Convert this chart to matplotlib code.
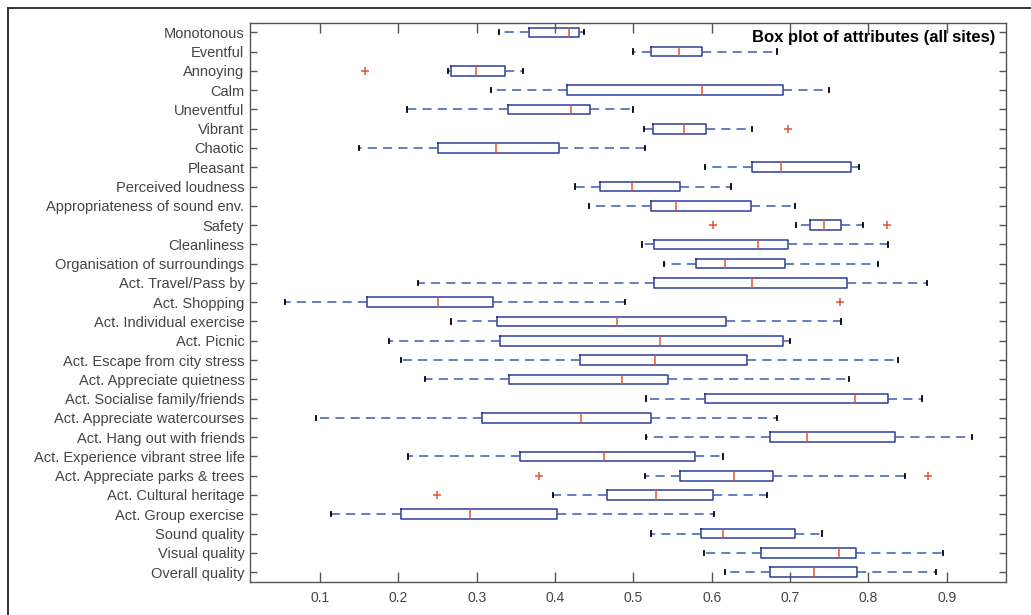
import numpy as np
import matplotlib
matplotlib.use("Agg")
import matplotlib.pyplot as plt
from matplotlib.lines import Line2D

# 1. Datos (de arriba a abajo)
categorias = [
    "Monotonous", "Eventful", "Annoying", "Calm", "Uneventful", "Vibrant",
    "Chaotic", "Pleasant", "Perceived loudness", "Appropriateness of sound env.",
    "Safety", "Cleanliness", "Organisation of surroundings", "Act. Travel/Pass by",
    "Act. Shopping", "Act. Individual exercise", "Act. Picnic",
    "Act. Escape from city stress", "Act. Appreciate quietness",
    "Act. Socialise family/friends", "Act. Appreciate watercourses",
    "Act. Hang out with friends", "Act. Experience vibrant stree life",
    "Act. Appreciate parks & trees", "Act. Cultural heritage",
    "Act. Group exercise", "Sound quality", "Visual quality", "Overall quality",
]

bigote_inf = [0.328, 0.500, 0.263, 0.318, 0.211, 0.513, 0.150, 0.592, 0.426, 0.443,
              0.707, 0.511, 0.539, 0.225, 0.055, 0.267, 0.188, 0.203, 0.234, 0.516,
              0.095, 0.516, 0.212, 0.515, 0.398, 0.114, 0.522, 0.590, 0.617]
q1 = [0.367, 0.522, 0.267, 0.415, 0.340, 0.525, 0.250, 0.652, 0.458, 0.523,
      0.726, 0.526, 0.580, 0.526, 0.160, 0.326, 0.330, 0.432, 0.341, 0.591,
      0.307, 0.674, 0.355, 0.560, 0.466, 0.203, 0.586, 0.663, 0.675]
mediana = [0.418, 0.558, 0.299, 0.588, 0.421, 0.565, 0.325, 0.688, 0.498, 0.554,
           0.744, 0.659, 0.617, 0.651, 0.250, 0.479, 0.534, 0.528, 0.485, 0.783,
           0.433, 0.722, 0.463, 0.628, 0.529, 0.292, 0.615, 0.763, 0.731]
q3 = [0.431, 0.588, 0.336, 0.691, 0.445, 0.593, 0.405, 0.778, 0.560, 0.650,
      0.765, 0.698, 0.694, 0.773, 0.321, 0.618, 0.691, 0.645, 0.544, 0.825,
      0.522, 0.834, 0.579, 0.678, 0.602, 0.403, 0.706, 0.784, 0.786]
bigote_sup = [0.437, 0.683, 0.359, 0.750, 0.500, 0.651, 0.515, 0.788, 0.625, 0.706,
              0.793, 0.825, 0.812, 0.875, 0.489, 0.765, 0.700, 0.838, 0.775, 0.868,
              0.684, 0.932, 0.615, 0.847, 0.671, 0.603, 0.741, 0.895, 0.886]
atipicos = [[], [], [0.157], [], [], [0.697], [], [], [], [],
            [0.602, 0.824], [], [], [], [0.764], [], [], [], [], [],
            [], [], [], [0.380, 0.876], [0.249], [], [], [], []]

xticks = [0.1, 0.2, 0.3, 0.4, 0.5, 0.6, 0.7, 0.8, 0.9]

# 2. Estadisticas para bxp
stats = []
for i in range(len(categorias)):
    stats.append({
        "label": categorias[i],
        "whislo": bigote_inf[i], "q1": q1[i], "med": mediana[i],
        "q3": q3[i], "whishi": bigote_sup[i], "fliers": atipicos[i],
    })

plt.rcParams["font.family"] = ["Liberation Sans", "DejaVu Sans"]

azul = "#2b3d98"
azul_bigote = "#3a5bb3"
rojo = "#e4552f"
gris = "#444444"

fig = plt.figure(figsize=(10.31, 6.15), dpi=100)
ax = fig.add_axes([0.2425, 0.0541, 0.7330, 0.9090])

posiciones = np.arange(1, len(categorias) + 1)
ax.bxp(stats, positions=posiciones, vert=False, widths=0.5, capwidths=0.22,
       boxprops=dict(color=azul, linewidth=1.1),
       whiskerprops=dict(color=azul_bigote, linewidth=1.1, linestyle=(0, (6, 4))),
       capprops=dict(color="black", linewidth=1.3),
       medianprops=dict(color=rojo, linewidth=1.1),
       flierprops=dict(marker="+", markeredgecolor=rojo, markersize=6,
                       markeredgewidth=1.1, linestyle="none"))

# 3. Ejes estilo MATLAB
ax.set_xlim(0.0106, 0.9754)
ax.set_ylim(len(categorias) + 0.5, 0.5)
ax.set_yticks(posiciones)
ax.set_yticklabels(categorias, fontsize=10.5, color=gris)
ax.set_xticks(xticks)
ax.set_xticklabels([f"{v:.1f}" for v in xticks], fontsize=10, color=gris)
ax.tick_params(axis="y", direction="in", length=5, width=1, color="#555555",
               right=True, pad=4)
ax.tick_params(axis="x", direction="in", length=7, width=1, color="#555555",
               top=True, pad=7)
for s in ax.spines.values():
    s.set_color("#555555")
    s.set_linewidth(1)

ax.text(0.986, 0.973, "Box plot of attributes (all sites)", transform=ax.transAxes,
        ha="right", va="center", fontsize=12, fontweight="bold", color="black")

# 4. Marco exterior de la figura (recortado)
fig.add_artist(Line2D([0.0073, 1.0], [0.9878, 0.9878], color="#222222", linewidth=1.3,
                      transform=fig.transFigure))
fig.add_artist(Line2D([0.0073, 0.0073], [0.0, 0.9878], color="#222222", linewidth=1.3,
                      transform=fig.transFigure))

fig.savefig("out.png", dpi=100)
